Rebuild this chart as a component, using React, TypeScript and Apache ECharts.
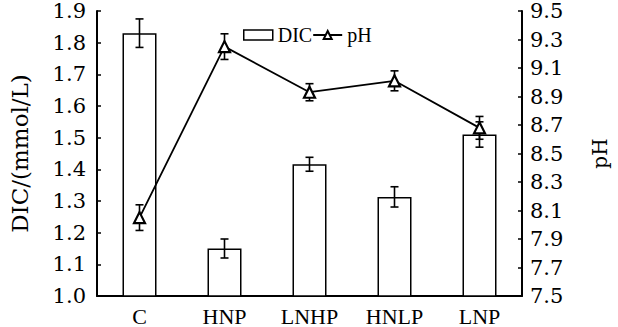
import React, { useEffect, useRef } from "react";
import * as echarts from "echarts";

const categories = ["C", "HNP", "LNHP", "HNLP", "LNP"];
const dicValues = [1.83, 1.15, 1.416, 1.313, 1.51];
const dicErrors = [0.045, 0.03, 0.022, 0.032, 0.04];
const phValues = [8.05, 9.25, 8.93, 9.01, 8.68];
const phErrors = [0.09, 0.09, 0.06, 0.07, 0.08];

const numFont = "DejaVu Serif";
const txtFont = "Liberation Serif";

function errorBarRender(params: any, api: any) {
  const idx = api.value(0);
  const lo = api.coord([idx, api.value(1)]);
  const hi = api.coord([idx, api.value(2)]);
  const half = 4;
  const style = { stroke: "#000", lineWidth: 1.6, fill: "none" };
  return {
    type: "group",
    children: [
      { type: "line", shape: { x1: lo[0], y1: lo[1], x2: hi[0], y2: hi[1] }, style },
      { type: "line", shape: { x1: lo[0] - half, y1: lo[1], x2: lo[0] + half, y2: lo[1] }, style },
      { type: "line", shape: { x1: hi[0] - half, y1: hi[1], x2: hi[0] + half, y2: hi[1] }, style },
    ],
  };
}

export default function App() {
  const ref = useRef<HTMLDivElement>(null);
  useEffect(() => {
    document.body.style.margin = "0";
    if (!ref.current) return;
    const chart = echarts.init(ref.current, null, { renderer: "svg" });
    const dicErrData = dicValues.map((v, i) => [i, v - dicErrors[i], v + dicErrors[i]]);
    const phErrData = phValues.map((v, i) => [i, v - phErrors[i], v + phErrors[i]]);
    chart.setOption({
      animation: false,
      backgroundColor: "#fff",
      grid: { left: 96, right: 93, top: 11, bottom: 31, containLabel: false },
      legend: {
        left: 238,
        top: 20,
        itemWidth: 29,
        itemHeight: 10,
        itemGap: 0,
        textStyle: { fontFamily: txtFont, fontSize: 20, color: "#000" },
        data: [
          { name: "DIC", icon: "rect", itemStyle: { color: "#fff", borderColor: "#000", borderWidth: 1.5 } },
          { name: "pH" },
        ],
      },
      xAxis: {
        type: "category",
        data: categories,
        boundaryGap: true,
        axisLine: { lineStyle: { color: "#000", width: 2 } },
        axisTick: { inside: true, length: 3, lineStyle: { color: "#000", width: 1.5 } },
        axisLabel: { fontFamily: txtFont, fontSize: 22, color: "#000", margin: 9 },
        splitLine: { show: false },
      },
      yAxis: [
        {
          type: "value",
          min: 1.0,
          max: 1.9,
          interval: 0.1,
          name: "DIC/(mmol/L)",
          nameLocation: "middle",
          nameGap: 66,
          nameTextStyle: { fontFamily: numFont, fontSize: 23, color: "#000" },
          axisLine: { show: true, lineStyle: { color: "#000", width: 2 } },
          axisTick: { show: true, inside: true, length: 4, lineStyle: { color: "#000", width: 1.5 } },
          axisLabel: {
            fontFamily: numFont,
            fontSize: 21,
            color: "#000",
            margin: 11,
            formatter: (v: number) => v.toFixed(1),
          },
          splitLine: { show: false },
        },
        {
          type: "value",
          min: 7.5,
          max: 9.5,
          interval: 0.2,
          position: "right",
          name: "pH",
          nameLocation: "middle",
          nameGap: 68,
          nameTextStyle: { fontFamily: numFont, fontSize: 20, color: "#000" },
          axisLine: { show: true, lineStyle: { color: "#000", width: 2 } },
          axisTick: { show: true, inside: true, length: 4, lineStyle: { color: "#000", width: 1.5 } },
          axisLabel: {
            fontFamily: numFont,
            fontSize: 21,
            color: "#000",
            margin: 8,
            formatter: (v: number) => v.toFixed(1),
          },
          splitLine: { show: false },
        },
      ],
      series: [
        {
          name: "DIC",
          type: "bar",
          yAxisIndex: 0,
          data: dicValues,
          barWidth: "40%",
          itemStyle: { color: "#fff", borderColor: "#000", borderWidth: 1.5 },
          z: 2,
        },
        {
          name: "DIC err",
          type: "custom",
          yAxisIndex: 0,
          data: dicErrData,
          renderItem: errorBarRender,
          encode: { x: 0, y: [1, 2] },
          z: 3,
        },
        {
          name: "pH",
          type: "line",
          yAxisIndex: 1,
          data: phValues,
          symbol: "triangle",
          symbolSize: 11,
          lineStyle: { color: "#000", width: 1.8 },
          itemStyle: { color: "#fff", borderColor: "#000", borderWidth: 2.2 },
          z: 5,
        },
        {
          name: "pH err",
          type: "custom",
          yAxisIndex: 1,
          data: phErrData,
          renderItem: errorBarRender,
          encode: { x: 0, y: [1, 2] },
          z: 4,
        },
      ],
    });
    return () => chart.dispose();
  }, []);
  return <div ref={ref} style={{ width: 618, height: 327 }} />;
}
